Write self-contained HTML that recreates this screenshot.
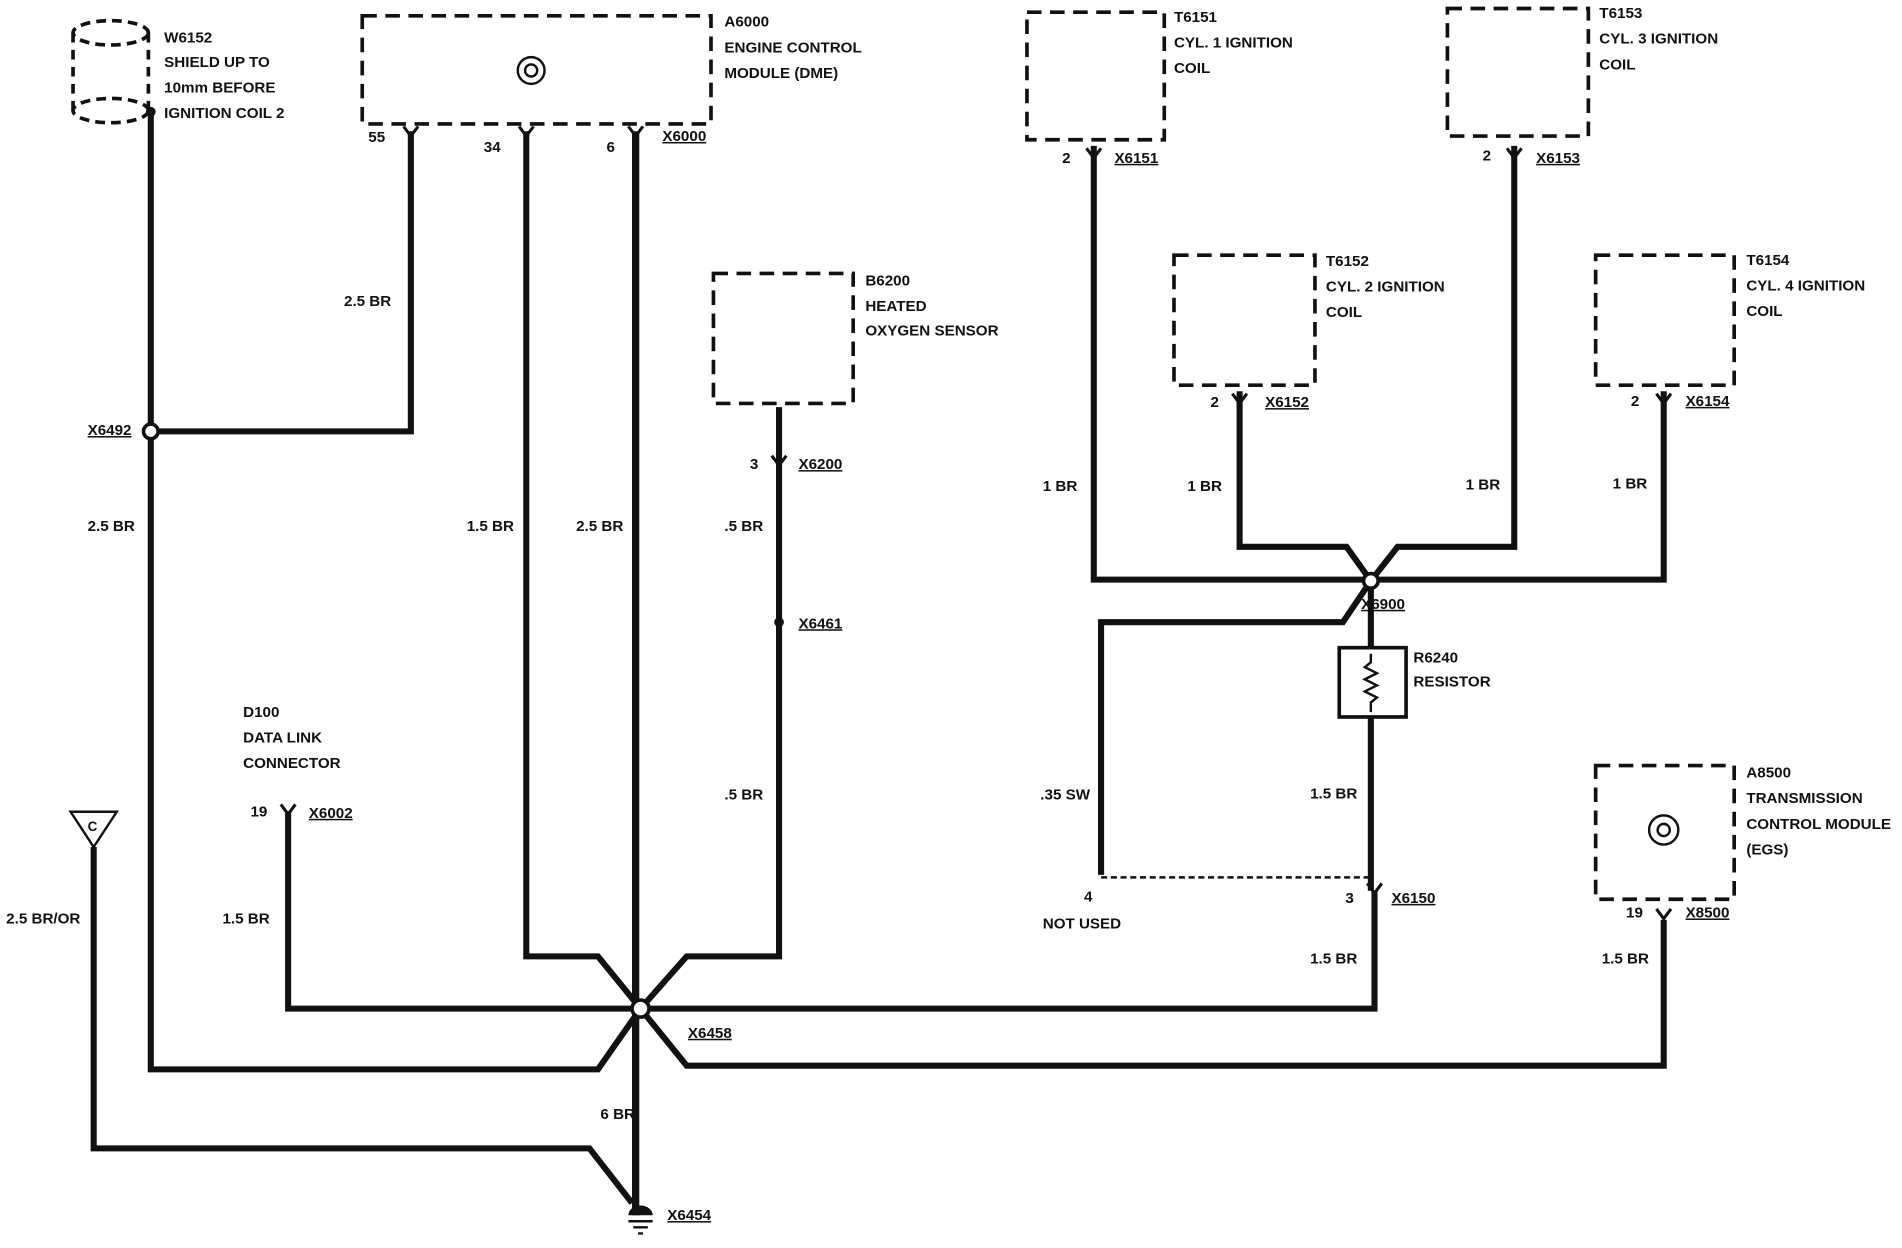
<!DOCTYPE html>
<html><head><meta charset="utf-8"><style>
html,body{margin:0;padding:0;background:#fff;}
svg{display:block;}
text{font-family:"Liberation Sans",sans-serif;font-size:12.5px;font-weight:bold;fill:#111;}
.w{fill:none;stroke:#111;stroke-width:5;stroke-linejoin:miter;}
.d{fill:none;stroke:#111;stroke-width:3;stroke-dasharray:12,7;}
.t{fill:none;stroke:#111;stroke-width:2;}
</style></head><body>
<svg width="1902" height="1248" viewBox="0 0 1565 1027" xmlns="http://www.w3.org/2000/svg">
<rect width="1565" height="1027" fill="#fff"/>
<ellipse cx="91" cy="27" rx="31" ry="10" class="d" style="stroke-dasharray:8,5"/>
<ellipse cx="91" cy="91" rx="31" ry="10" class="d" style="stroke-dasharray:8,5"/>
<line x1="60" y1="27" x2="60" y2="91" class="d" style="stroke-dasharray:8,6"/>
<line x1="122" y1="27" x2="122" y2="91" class="d" style="stroke-dasharray:8,6"/>
<text x="135" y="35">W6152</text><text x="135" y="55">SHIELD UP TO</text><text x="135" y="76">10mm BEFORE</text><text x="135" y="97">IGNITION COIL 2</text>
<path class="w" d="M124 92 V880 H492 L527 830"/>
<path class="w" d="M124 355 H338 V108"/>
<path class="w" d="M433 108 V787 H492 L527 830"/>
<path class="w" d="M523 108 V1000" style="stroke-width:6"/>
<path class="w" d="M641 335 V787 H565 L527 830"/>
<path class="w" d="M237 668 V830 H527"/>
<path class="w" d="M77 697 V945 H485 L520 990"/>
<path class="w" d="M527 830 H1131 V733"/>
<path class="w" d="M527 830 L565 877 H1369 V757"/>
<path class="w" d="M900 120 V477 H1128"/>
<path class="w" d="M1246 120 V450 H1150 L1128 478"/>
<path class="w" d="M1020 322 V450 H1108 L1128 478"/>
<path class="w" d="M1369 322 V477 H1128"/>
<path class="w" d="M1128 478 L1105 512 H906 V720"/>
<path class="w" d="M1128 478 V533 M1128 590 V733"/>
<line x1="906" y1="722" x2="1128" y2="722" class="t" style="stroke-dasharray:5,3"/>
<circle cx="124" cy="92" r="4" fill="#111"/>
<circle cx="124" cy="355" r="6" fill="#fff" stroke="#111" stroke-width="3"/>
<rect x="298" y="13" width="287" height="89" class="d"/>
<circle cx="437" cy="58" r="11" class="t"/><circle cx="437" cy="58" r="5" class="t"/>
<text x="596" y="22">A6000</text><text x="596" y="43">ENGINE CONTROL</text><text x="596" y="64">MODULE (DME)</text>
<text x="303" y="117">55</text><text x="398" y="125">34</text><text x="499" y="125">6</text>
<text x="545" y="116" text-decoration="underline">X6000</text>
<text x="283" y="252">2.5 BR</text>
<text x="72" y="358" text-decoration="underline">X6492</text>
<text x="72" y="437">2.5 BR</text><text x="384" y="437">1.5 BR</text><text x="474" y="437">2.5 BR</text>
<rect x="587" y="225" width="115" height="107" class="d"/>
<text x="712" y="235">B6200</text><text x="712" y="256">HEATED</text><text x="712" y="276">OXYGEN SENSOR</text>
<text x="617" y="386">3</text><text x="657" y="386" text-decoration="underline">X6200</text>
<text x="596" y="437">.5 BR</text><text x="657" y="517" text-decoration="underline">X6461</text><text x="596" y="658">.5 BR</text>
<circle cx="641" cy="512" r="4" fill="#111"/>
<text x="200" y="590">D100</text><text x="200" y="611">DATA LINK</text><text x="200" y="632">CONNECTOR</text>
<text x="206" y="672">19</text><text x="254" y="673" text-decoration="underline">X6002</text>
<text x="183" y="760">1.5 BR</text>
<path d="M58 668 H96 L77 697 Z" class="t"/><text x="72" y="684" style="font-size:11px">C</text>
<text x="5" y="760">2.5 BR/OR</text>
<circle cx="527" cy="830" r="7" fill="#fff" stroke="#111" stroke-width="3"/>
<text x="566" y="854" text-decoration="underline">X6458</text>
<text x="494" y="921">6 BR</text>
<path d="M517 1000 A10 8 0 0 1 537 1000 Z" fill="#111"/>
<path d="M517 1005 H537 M521 1010 H533 M525 1015 H529" class="t"/>
<text x="549" y="1004" text-decoration="underline">X6454</text>
<rect x="845" y="10" width="113" height="105" class="d"/>
<text x="966" y="18">T6151</text><text x="966" y="39">CYL. 1 IGNITION</text><text x="966" y="60">COIL</text>
<text x="874" y="134">2</text><text x="917" y="134" text-decoration="underline">X6151</text>
<rect x="1191" y="7" width="116" height="105" class="d"/>
<text x="1316" y="15">T6153</text><text x="1316" y="36">CYL. 3 IGNITION</text><text x="1316" y="57">COIL</text>
<text x="1220" y="132">2</text><text x="1264" y="134" text-decoration="underline">X6153</text>
<rect x="966" y="210" width="116" height="107" class="d"/>
<text x="1091" y="219">T6152</text><text x="1091" y="240">CYL. 2 IGNITION</text><text x="1091" y="261">COIL</text>
<text x="996" y="335">2</text><text x="1041" y="335" text-decoration="underline">X6152</text>
<rect x="1313" y="210" width="114" height="107" class="d"/>
<text x="1437" y="218">T6154</text><text x="1437" y="239">CYL. 4 IGNITION</text><text x="1437" y="260">COIL</text>
<text x="1342" y="334">2</text><text x="1387" y="334" text-decoration="underline">X6154</text>
<text x="858" y="404">1 BR</text><text x="977" y="404">1 BR</text><text x="1206" y="403">1 BR</text><text x="1327" y="402">1 BR</text>
<circle cx="1128" cy="478" r="6" fill="#fff" stroke="#111" stroke-width="3"/>
<text x="1120" y="501" text-decoration="underline">X6900</text>
<rect x="1102" y="533" width="55" height="57" fill="#fff" stroke="#111" stroke-width="3"/>
<path d="M1128 538 V545 L1123 549 L1133 554 L1123 559 L1133 564 L1123 569 L1133 574 L1128 578 V586" class="t"/>
<text x="1163" y="545">R6240</text><text x="1163" y="565">RESISTOR</text>
<text x="856" y="658">.35 SW</text><text x="1078" y="657">1.5 BR</text>
<text x="892" y="742">4</text><text x="858" y="764">NOT USED</text>
<text x="1107" y="743">3</text><text x="1145" y="743" text-decoration="underline">X6150</text>
<text x="1078" y="793">1.5 BR</text>
<rect x="1313" y="630" width="114" height="110" class="d"/>
<circle cx="1369" cy="683" r="12" class="t"/><circle cx="1369" cy="683" r="5" class="t"/>
<text x="1437" y="640">A8500</text><text x="1437" y="661">TRANSMISSION</text><text x="1437" y="682">CONTROL MODULE</text><text x="1437" y="703">(EGS)</text>
<text x="1338" y="755">19</text><text x="1387" y="755" text-decoration="underline">X8500</text>
<text x="1318" y="793">1.5 BR</text>
<g class="t" style="stroke-width:2.5">
<path d="M332 104 L338 112 L344 104"/><path d="M427 104 L433 112 L439 104"/><path d="M517 104 L523 112 L529 104"/>
<path d="M635 375 L641 383 L647 375"/><path d="M231 662 L237 670 L243 662"/>
<path d="M894 122 L900 130 L906 122"/><path d="M1240 122 L1246 130 L1252 122"/>
<path d="M1014 324 L1020 332 L1026 324"/><path d="M1363 324 L1369 332 L1375 324"/>
<path d="M1125 727 L1131 735 L1137 727"/><path d="M1363 748 L1369 756 L1375 748"/>
</g>
</svg>
</body></html>
